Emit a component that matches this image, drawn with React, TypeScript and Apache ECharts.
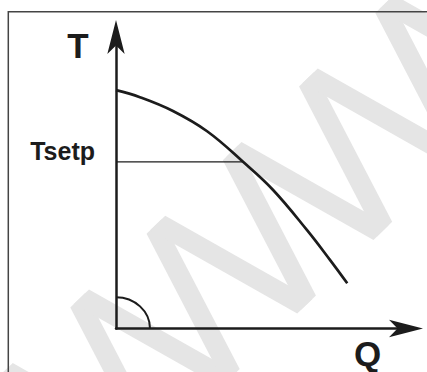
import React, { useEffect, useRef } from 'react';
import * as echarts from 'echarts';

// Pump curve T(Q) (axis units 0..100)
const Q_VALUES = [0, 8.2, 19.5, 31.2, 43.5, 53.8, 65.5, 73.4, 79.2];
const T_VALUES = [81.2, 78.8, 74.1, 67.2, 56.8, 47.2, 33.4, 23.2, 15.4];
// Set-point line
const TSETP = 56.8;
const TSETP_Q = [0, 43.6];
const Y_TICK_LABELS = ['Tsetp'];
const X_NAME = 'Q';
const Y_NAME = 'T';
const AXIS_MIN = 0;
const AXIS_MAX = 100;

const FONT = "'Liberation Sans', Arial, Helvetica, sans-serif";
const INK = '#1c1c1c';

function watermark(): any[] {
  const th = (44 * Math.PI) / 180;
  const d = [Math.cos(th), -Math.sin(th)];
  const n = [-Math.sin(th), -Math.cos(th)];
  const top = -270;
  const base = -432;
  const pt = (u: number, p: number) => [u * d[0] + p * n[0], u * d[1] + p * n[1]];
  const s = 53, a = 13, b = 13, w = 21;
  const els: any[] = [];
  const poly = (points: number[][]) => ({
    type: 'polygon',
    silent: true,
    z: -10,
    shape: { points },
    style: { fill: '#e5e5e5' },
  });
  for (let k = -3; k <= 5; k++) {
    const T = -150 + 106 * k;
    const B = T + s;
    const Tn = T + 2 * s;
    els.push(poly([pt(T + a - w, top), pt(T + a, top), pt(B - b + w, base), pt(B - b, base)]));
    els.push(poly([pt(B + b - w, base), pt(B + b, base), pt(Tn - a + w, top), pt(Tn - a, top)]));
  }
  return els;
}

export default function App() {
  const ref = useRef<HTMLDivElement>(null);
  useEffect(() => {
    if (!ref.current) return;
    const chart = echarts.init(ref.current, null, { renderer: 'svg' });
    const curve = Q_VALUES.map((q, i) => [q, T_VALUES[i]]);
    const setLine = TSETP_Q.map((q) => [q, TSETP]);
    const axisLine = {
      show: true,
      symbol: ['none', 'arrow'],
      symbolSize: [13, 34],
      symbolOffset: [0, 15],
      lineStyle: { color: INK, width: 2.5 },
    };
    chart.setOption({
      animation: false,
      backgroundColor: '#ffffff',
      grid: { left: 116, right: 19, top: 35, bottom: 43.5, containLabel: false, outerBoundsMode: 'none' },
      xAxis: {
        type: 'value',
        min: AXIS_MIN,
        max: AXIS_MAX,
        axisLine,
        axisTick: { show: false },
        axisLabel: { show: false },
        splitLine: { show: false },
      },
      yAxis: {
        type: 'value',
        min: AXIS_MIN,
        max: AXIS_MAX,
        axisLine,
        axisTick: { show: false },
        splitLine: { show: false },
        axisLabel: {
          show: true,
          customValues: [TSETP],
          formatter: () => Y_TICK_LABELS[0],
          margin: 21,
          fontSize: 25,
          fontWeight: 'bold',
          fontFamily: FONT,
          color: INK,
          verticalAlign: 'bottom',
          lineHeight: 22,
        },
      },
      graphic: [
        ...watermark(),
        {
          type: 'rect',
          silent: true,
          z: -5,
          shape: { x: 8.3, y: 11.7, width: 440, height: 400 },
          style: { fill: 'none', stroke: '#444', lineWidth: 1.5 },
        },
        {
          type: 'text',
          x: 78,
          y: 45.8,
          style: {
            text: Y_NAME,
            fontSize: 35,
            fontWeight: 'bold',
            fontFamily: FONT,
            fill: INK,
            align: 'center',
            verticalAlign: 'middle',
          },
        },
        {
          type: 'text',
          x: 367.5,
          y: 353.5,
          style: {
            text: X_NAME,
            fontSize: 35,
            fontWeight: 'bold',
            fontFamily: FONT,
            fill: INK,
            align: 'center',
            verticalAlign: 'middle',
          },
        },
      ],
      series: [
        {
          type: 'line',
          data: curve,
          smooth: 0.4,
          showSymbol: false,
          lineStyle: { color: INK, width: 2.7 },
          z: 3,
        },
        {
          type: 'line',
          data: setLine,
          showSymbol: false,
          lineStyle: { color: INK, width: 1.3 },
          z: 3,
        },
        {
          type: 'custom',
          data: [[0, 0]],
          z: 3,
          renderItem: (_params: any, api: any) => {
            const c = api.coord([0, 0]);
            return {
              type: 'arc',
              x: c[0],
              y: c[1],
              scaleY: 0.92,
              shape: { cx: 0, cy: 0, r: 34, startAngle: -Math.PI / 2, endAngle: 0, clockwise: true },
              style: { stroke: INK, lineWidth: 2, fill: 'none' },
            };
          },
        },
      ],
    });
    return () => chart.dispose();
  }, []);
  return (
    <div
      ref={ref}
      style={{ position: 'fixed', left: 0, top: 0, width: 427, height: 372, background: '#fff' }}
    />
  );
}
